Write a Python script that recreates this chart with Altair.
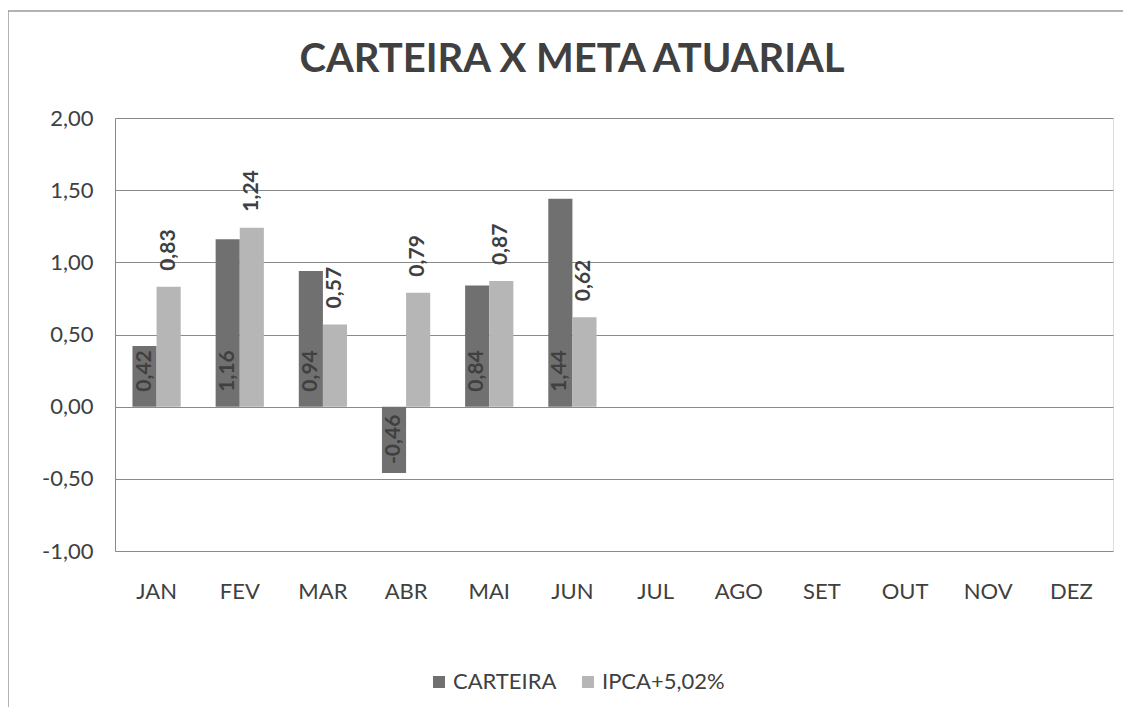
import altair as alt
import pandas as pd

months = ["JAN", "FEV", "MAR", "ABR", "MAI", "JUN", "JUL", "AGO", "SET", "OUT", "NOV", "DEZ"]
carteira = [0.42, 1.16, 0.94, -0.46, 0.84, 1.44]
ipca = [0.83, 1.24, 0.57, 0.79, 0.87, 0.62]
series_names = ["CARTEIRA", "IPCA+5,02%"]
colors = ["#707070", "#b6b6b6"]
title_text = "CARTEIRA X META ATUARIAL"

rows = []
for m, v in zip(months, carteira):
    rows.append({"mes": m, "serie": series_names[0], "valor": v})
for m, v in zip(months, ipca):
    rows.append({"mes": m, "serie": series_names[1], "valor": v})
df = pd.DataFrame(rows)
df["rotulo"] = df["valor"].map(lambda v: f"{v:.2f}".replace(".", ","))

FONT = "Lato"
TXT = "#404040"

x_enc = alt.X("mes:N", sort=months, scale=alt.Scale(domain=months, paddingInner=0.42, paddingOuter=0.21),
              axis=alt.Axis(title=None, labelFontSize=22, labelColor=TXT, labelFont=FONT,
                            ticks=False, domain=False, labelPadding=30, labelAngle=0))
xo_enc = alt.XOffset("serie:N", sort=series_names, scale=alt.Scale(domain=series_names, paddingInner=0, paddingOuter=0))

y_scale = alt.Scale(domain=[-1, 2], nice=False, zero=False)
y_enc = alt.Y("valor:Q", scale=y_scale,
              axis=alt.Axis(title=None, values=[-1, -0.5, 0, 0.5, 1, 1.5, 2],
                            labelExpr="replace(replace(format(datum.value, '.2f'), '.', ','), '\u2212', '-')",
                            labelFontSize=22, labelColor=TXT, labelFont=FONT,
                            ticks=False, domain=True, domainColor="#8a8a8a", labelPadding=22,
                            grid=True, gridColor="#8a8a8a", gridWidth=1))

base = alt.Chart(df)

bars = base.mark_bar().encode(
    x=x_enc,
    xOffset=xo_enc,
    y=y_enc,
    y2=alt.datum(0),
    color=alt.Color("serie:N", sort=series_names,
                    scale=alt.Scale(domain=series_names, range=colors),
                    legend=alt.Legend(title=None, orient="none", direction="horizontal",
                                      legendX=313, legendY=553, symbolType="square",
                                      symbolSize=144, symbolStrokeWidth=0,
                                      labelFontSize=22, labelColor=TXT, labelFont=FONT,
                                      columnPadding=20, labelOffset=3)),
)

lab_pos = base.transform_filter(
    (alt.datum.serie == series_names[0]) & (alt.datum.valor >= 0)
).mark_text(angle=270, align="left", baseline="middle", dx=15, fontSize=21, fontWeight="bold",
            font=FONT, color=TXT).encode(
    x=alt.X("mes:N", sort=months), xOffset=xo_enc, y=alt.datum(0), text="rotulo:N")

lab_neg = base.transform_filter(
    (alt.datum.serie == series_names[0]) & (alt.datum.valor < 0)
).mark_text(angle=270, align="right", baseline="middle", dx=-8, fontSize=21, fontWeight="bold",
            font=FONT, color=TXT).encode(
    x=alt.X("mes:N", sort=months), xOffset=xo_enc, y=alt.datum(0), text="rotulo:N")

lab_ipca = base.transform_filter(
    alt.datum.serie == series_names[1]
).mark_text(angle=270, align="left", baseline="middle", dx=16, fontSize=21, fontWeight="bold",
            font=FONT, color=TXT).encode(
    x=alt.X("mes:N", sort=months), xOffset=xo_enc, y=alt.Y("valor:Q", scale=y_scale), text="rotulo:N")

frame = alt.Chart(pd.DataFrame({"k": [0]})).mark_rect(fill="transparent", stroke="#9a9a9a", strokeWidth=1.5).encode(
    x=alt.value(-107), x2=alt.value(1010), y=alt.value(-107), y2=alt.value(620))

title = alt.Chart(pd.DataFrame({"t": [title_text]})).mark_text(
    fontSize=40, fontWeight="bold", font=FONT, color=TXT, align="center", baseline="alphabetic").encode(
    x=alt.value(457), y=alt.value(-46), text="t:N")

chart = alt.layer(frame, bars, lab_pos, lab_neg, lab_ipca, title).properties(
    width=998, height=433,
    autosize=alt.AutoSizeParams(type="none"),
    padding={"left": 107, "top": 110, "right": 10, "bottom": 156},
).configure_view(stroke=None).configure(background="white")

chart.save("out.html", embed_options={"renderer": "svg", "actions": False})
